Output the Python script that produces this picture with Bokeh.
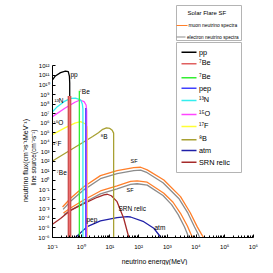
import numpy as np
from math import pi
from bokeh.plotting import figure
from bokeh.models import Range1d, FixedTicker, CustomJSTickFormatter, Label, BoxAnnotation
from bokeh.embed import file_html
from bokeh.resources import INLINE

FONT = "Liberation Sans"

# ---------------- data (log10 E [MeV], log10 flux) ----------------
pp_logE = [-1.0, -0.9, -0.72, -0.55, -0.45, -0.41, -0.40, -0.40]
pp_logF = [10.53, 10.95, 11.3, 11.47, 11.4, 10.9, 10.2, -6.0]

be7_E = [0.391, 0.862]          # line sources (MeV)
be7_logF = [8.85, 9.4]
pep_E = [1.442]
pep_logF = [7.6]

n13_logE = [-1.0, -0.83, -0.6, -0.37, -0.2, -0.02, 0.04, 0.06, 0.06]
n13_logF = [7.2, 7.73, 8.25, 8.6, 8.62, 8.43, 8.0, 7.5, -6.0]

o15_logE = [-1.0, -0.57, -0.22, -0.04, 0.1, 0.17, 0.19, 0.19]
o15_logF = [6.68, 7.56, 8.19, 8.43, 8.25, 7.9, 7.3, -6.0]

f17_logE = [-1.0, -0.57, -0.22, -0.02, 0.15, 0.2, 0.21, 0.21]
f17_logF = [4.8, 5.5, 6.0, 6.15, 5.91, 5.63, 5.2, -6.0]

b8_logE = [-1.0, -0.5, 0.0, 0.4, 0.6, 0.75, 0.88, 1.0, 1.08, 1.13, 1.13]
b8_logF = [2.03, 2.95, 3.87, 4.6, 5.0, 5.35, 5.5, 5.45, 5.25, 4.95, -6.0]

srn_logE = [-1.0, -0.72, -0.37, 0.09, 0.56, 0.79, 0.91, 1.05, 1.25, 1.48, 1.66]
srn_logF = [-4.6, -4.0, -3.15, -2.45, -1.78, -1.52, -1.46, -1.62, -2.24, -3.98, -6.0]

atm_logE = [-0.2, 0.21, 0.67, 1.25, 1.6, 1.72, 2.18, 2.53, 2.78]
atm_logF = [-6.0, -4.86, -4.26, -3.92, -3.81, -3.85, -4.34, -5.03, -6.0]

sf1_mu_logE = [-0.65, -0.37, 0.09, 0.67, 1.25, 1.83, 2.07, 2.3, 2.88, 3.46, 3.8, 4.04, 4.18, 4.26]
sf1_mu_logF = [-2.8, -1.88, -0.67, 0.49, 1.01, 1.33, 1.37, 1.1, 0.04, -1.71, -3.4, -4.86, -5.6, -6.0]
sf1_e_logE = [-0.63, -0.37, 0.09, 0.67, 1.25, 1.83, 2.07, 2.3, 2.85, 3.4, 3.72, 3.95, 4.07, 4.13]
sf1_e_logF = [-3.05, -2.2, -1.0, 0.17, 0.7, 1.02, 1.06, 0.8, -0.25, -1.9, -3.45, -4.9, -5.6, -6.0]
sf2_mu_logE = [-0.62, -0.37, 0.09, 0.67, 1.25, 1.72, 1.95, 2.3, 2.88, 3.2, 3.46, 3.7, 3.81, 3.88]
sf2_mu_logF = [-3.42, -2.9, -2.06, -1.12, -0.59, -0.12, -0.06, -0.2, -1.36, -2.3, -3.46, -4.8, -5.55, -6.0]
sf2_e_logE = [-0.6, -0.37, 0.09, 0.67, 1.25, 1.72, 1.95, 2.3, 2.85, 3.15, 3.38, 3.6, 3.69, 3.75]
sf2_e_logF = [-3.6, -3.15, -2.35, -1.42, -0.89, -0.42, -0.36, -0.5, -1.6, -2.55, -3.6, -4.9, -5.55, -6.0]

x_tick_exps = list(range(-1, 7))
x_tick_labels = ["10⁻¹", "10⁰", "10¹", "10²", "10³", "10⁴", "10⁵", "10⁶"]
y_tick_exps = list(range(-6, 13))
y_tick_labels = ["10⁻⁶", "10⁻⁵", "10⁻⁴", "10⁻³", "10⁻²", "10⁻¹", "10⁰", "10¹", "10²",
                 "10³", "10⁴", "10⁵", "10⁶", "10⁷", "10⁸", "10⁹", "10¹⁰", "10¹¹", "10¹²"]

legend_labels = ["pp", "⁷Be", "⁷Be", "pep", "¹³N", "¹⁵O", "¹⁷F", "⁸B", "atm", "SRN relic"]

# ---------------- colours ----------------
C_PP = "black"
C_BE7A = "#e06060"
C_BE7B = "#33ee33"
C_PEP = "#4040ff"
C_N13 = "#33eeee"
C_O15 = "#ff44ff"
C_F17 = "#ffff33"
C_B8 = "#a8a032"
C_ATM = "#2020a8"
C_SRN = "#a52a2a"
C_MU = "#ff7f2a"
C_E = "#8c8c8c"
legend_colors = [C_PP, C_BE7A, C_BE7B, C_PEP, C_N13, C_O15, C_F17, C_B8, C_ATM, C_SRN]

# ---------------- geometry (pixels) ----------------
W, H = 265, 265
AX_X = 52.0        # pixel x of the y axis (E = 10^-1)
AX_Y = 237.0       # pixel y of the x axis (flux = 10^-6)
PX_DEC_X = 28.7    # pixels per decade, x
PX_DEC_Y = 9.53    # pixels per decade, y
x_lo = x_tick_exps[0] - AX_X / PX_DEC_X
x_hi = x_tick_exps[0] + (W - AX_X) / PX_DEC_X
y_lo = y_tick_exps[0] - (H - AX_Y) / PX_DEC_Y
y_hi = y_tick_exps[0] + AX_Y / PX_DEC_Y

def v(a):
    return 10 ** np.array(a, dtype=float)

p = figure(width=W, height=H, x_axis_type="log", y_axis_type="log",
           x_range=Range1d(10 ** x_lo, 10 ** x_hi), y_range=Range1d(10 ** y_lo, 10 ** y_hi),
           output_backend="svg", toolbar_location=None, title=None,
           min_border_left=0, min_border_right=0, min_border_top=0, min_border_bottom=0)
p.outline_line_color = None
p.xgrid.visible = False
p.ygrid.visible = False
p.background_fill_color = "white"
p.border_fill_color = "white"

fmt_code = """
const e = Math.round(Math.log10(tick));
const i = e - lo;
return (i >= 0 && i < labels.length) ? labels[i] : "";
"""
xa = p.xaxis[0]
xa.ticker = FixedTicker(ticks=[10.0 ** e for e in x_tick_exps],
                        minor_ticks=[k * 10.0 ** e for e in range(-1, 6) for k in range(2, 10)])
xa.formatter = CustomJSTickFormatter(args=dict(lo=x_tick_exps[0], labels=x_tick_labels), code=fmt_code)
xa.bounds = (10.0 ** x_tick_exps[0], 10.0 ** x_tick_exps[-1])
xa.fixed_location = 10.0 ** y_tick_exps[0]
ya = p.yaxis[0]
ya.ticker = FixedTicker(ticks=[10.0 ** e for e in y_tick_exps], minor_ticks=[])
ya.formatter = CustomJSTickFormatter(args=dict(lo=y_tick_exps[0], labels=y_tick_labels), code=fmt_code)
ya.bounds = (10.0 ** y_tick_exps[0], 10.0 ** y_tick_exps[-1])
ya.fixed_location = 10.0 ** x_tick_exps[0]
for ax in (xa, ya):
    ax.major_tick_in = 3
    ax.major_tick_out = 0
    ax.minor_tick_in = 2
    ax.minor_tick_out = 0
    ax.axis_line_color = "black"
    ax.major_tick_line_color = "black"
    ax.minor_tick_line_color = "black"
    ax.major_label_text_font = FONT
    ax.major_label_text_font_size = "6px"
    ax.major_label_text_color = "black"
xa.major_label_standoff = 6
ya.major_label_standoff = 3

LW = 1.3
# SF curves
p.line(v(sf1_e_logE), v(sf1_e_logF), line_color=C_E, line_width=LW)
p.line(v(sf1_mu_logE), v(sf1_mu_logF), line_color=C_MU, line_width=LW)
p.line(v(sf2_e_logE), v(sf2_e_logF), line_color=C_E, line_width=LW)
p.line(v(sf2_mu_logE), v(sf2_mu_logF), line_color=C_MU, line_width=LW)
# diffuse
p.line(v(atm_logE), v(atm_logF), line_color=C_ATM, line_width=LW)
p.line(v(srn_logE), v(srn_logF), line_color=C_SRN, line_width=LW)
# solar
p.line(v(b8_logE), v(b8_logF), line_color=C_B8, line_width=LW)
p.line(v(f17_logE), v(f17_logF), line_color=C_F17, line_width=LW)
p.line(v(o15_logE), v(o15_logF), line_color=C_O15, line_width=LW)
p.line(v(n13_logE), v(n13_logF), line_color=C_N13, line_width=LW)
p.segment(x0=pep_E, y0=[1e-6] * len(pep_E), x1=pep_E, y1=v(pep_logF), line_color=C_PEP, line_width=LW)
p.segment(x0=be7_E[1:], y0=[1e-6], x1=be7_E[1:], y1=v(be7_logF[1:]), line_color=C_BE7B, line_width=LW)
p.line(v(pp_logE), v(pp_logF), line_color=C_PP, line_width=LW)
p.segment(x0=be7_E[:1], y0=[1e-6], x1=be7_E[:1], y1=v(be7_logF[:1]), line_color="#b83a3a", line_width=3.6)
p.segment(x0=be7_E[:1], y0=[1e-6], x1=be7_E[:1], y1=v(be7_logF[:1]), line_color="#ee7070", line_width=1.8)

def text(t, ix, iy, size, align="left", angle=0.0, baseline="middle"):
    p.add_layout(Label(x=ix, y=H - iy, x_units="screen", y_units="screen", text=t,
                       text_font=FONT, text_font_size=f"{size}px", text_align=align,
                       text_baseline=baseline, text_color="black", angle=angle))

def box(l, t, r, b, fill, line=None):
    p.add_layout(BoxAnnotation(left=l, right=r, top=H - t, bottom=H - b,
                               left_units="screen", right_units="screen",
                               top_units="screen", bottom_units="screen",
                               fill_color=fill, fill_alpha=1.0,
                               line_color=line, line_width=1, line_alpha=1.0))

# curve labels
text("pp", 70, 74, 6.5)
text("⁷Be", 79, 90.5, 6.5)
text("¹³N", 54, 100, 6.5)
text("¹⁵O", 53, 121.5, 6.5)
text("¹⁷F", 52.5, 143, 6.5)
text("⁸B", 100, 135.5, 6.5)
text("⁷Be", 56, 172, 6.5)
text("SF", 130, 160.5, 5.5)
text("SF", 126, 189, 5.5)
text("SRN relic", 118, 208, 6.5)
text("pep", 86, 218.5, 6.5)
text("atm", 154, 226.5, 6.5)

# axis titles
text("neutrino energy(MeV)", 154, 261, 6.8, align="center")
text("neutrino flux(cm⁻²s⁻¹MeV⁻¹)", 25, 160, 7.0, align="center", angle=pi / 2)
text("line source(cm⁻²s⁻¹)", 33, 157, 6.5, align="center", angle=pi / 2)

# top legend box
box(176, 5, 241, 40, "white", "#b4b4b4")
text("Solar Flare  SF", 187, 12.5, 6)
box(176, 24.4, 187, 25.6, C_MU)
text("muon neutrino spectra", 188, 25, 4.9)
box(176, 35.9, 185, 37.1, C_E)
text("electron neutrino spectra", 186.5, 36.5, 4.7)

# main legend box
box(176, 42, 241, 172, "white", "#b4b4b4")
legend_y = [51.7, 63.3, 77.3, 87.7, 100, 114, 126, 139.3, 150, 161.7]
for lab, col, yy in zip(legend_labels, legend_colors, legend_y):
    box(181, yy - 0.7, 196, yy + 0.7, col)
    text(lab, 198.5, yy - (1.2 if lab[0] in "⁷¹⁸" else 0), 7.3)

open("out.html", "w").write(file_html(p, INLINE))
